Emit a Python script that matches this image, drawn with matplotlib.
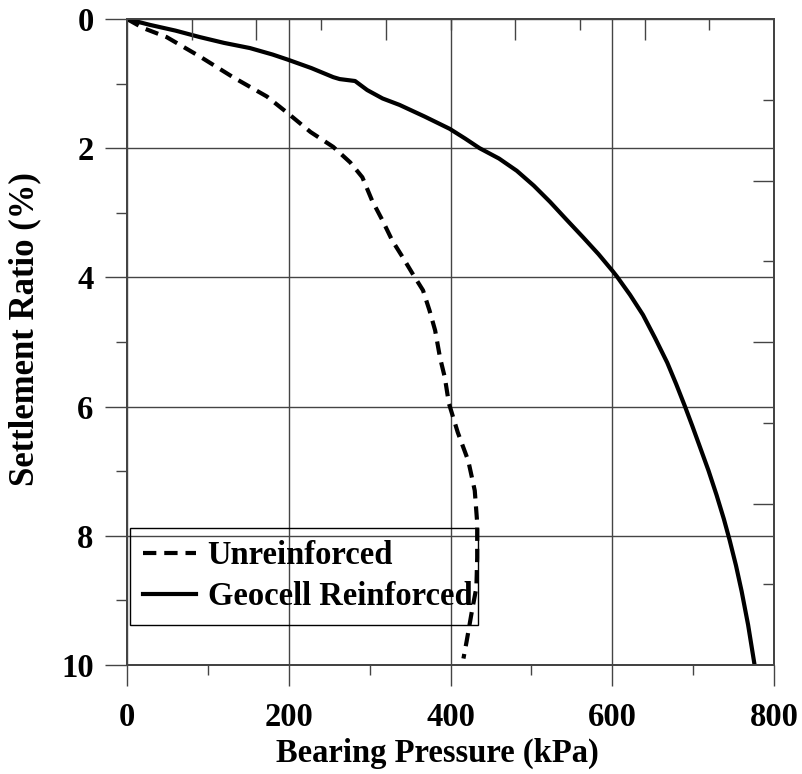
import matplotlib
matplotlib.use("Agg")
import matplotlib.pyplot as plt
from matplotlib.ticker import MultipleLocator, FixedLocator

# Data (bearing pressure kPa, settlement ratio %)
unreinf_p = [0, 20, 49, 90, 131, 173, 199, 227, 255, 276, 291, 303, 316, 328, 341,
             353, 366, 374, 381, 387, 393, 398, 409, 422, 430, 433, 433, 432, 426, 420, 416]
unreinf_s = [0, 0.14, 0.28, 0.58, 0.90, 1.20, 1.46, 1.75, 1.98, 2.22, 2.45, 2.81, 3.12, 3.43, 3.69,
             3.94, 4.20, 4.51, 4.82, 5.24, 5.55, 5.95, 6.40, 6.84, 7.30, 7.80, 8.34, 8.80, 9.20, 9.63, 9.90]

geo_p = [0, 28, 60, 90, 120, 152, 180, 199, 228, 255, 263, 282, 297, 316, 337, 368,
         399, 418, 436, 460, 482, 503, 523, 543, 564, 583, 601, 606, 622, 638, 653, 668,
         679, 690, 699, 708, 719, 729, 738, 745, 753, 760, 768, 776]
geo_s = [0, 0.09, 0.18, 0.28, 0.37, 0.45, 0.55, 0.63, 0.76, 0.90, 0.93, 0.96, 1.10, 1.23, 1.33, 1.51,
         1.70, 1.85, 2.00, 2.16, 2.35, 2.58, 2.83, 3.10, 3.38, 3.64, 3.91, 3.99, 4.27, 4.58, 4.94, 5.32,
         5.65, 6.00, 6.30, 6.61, 6.99, 7.37, 7.74, 8.06, 8.46, 8.86, 9.38, 10.0]

x_ticks = [0, 200, 400, 600, 800]
y_ticks = [0, 2, 4, 6, 8, 10]
top_long = [80, 160, 320, 480, 640]
top_short = [240, 400, 560, 720]
right_long = [2.5, 5.0, 7.5]
right_short = [1.25, 3.75, 6.25, 8.75]

plt.rcParams['font.family'] = ['Liberation Serif', 'DejaVu Serif']
plt.rcParams['font.weight'] = 'bold'
FS = 23.5

fig = plt.figure(figsize=(8.02, 7.74), dpi=100)
ax = fig.add_axes([127/802, 1-665/774, (774-127)/802, (665-19)/774])

gcol = '#444444'
ax.plot(unreinf_p, unreinf_s, color='black', lw=3.0, linestyle=(0, (3.2, 1.9)),
        label='Unreinforced', zorder=3)
ax.plot(geo_p, geo_s, color='black', lw=3.0, label='Geocell Reinforced', zorder=3)

ax.set_xlim(0, 800)
ax.set_ylim(10, 0)
ax.set_xticks(x_ticks)
ax.set_yticks(y_ticks)
ax.xaxis.set_minor_locator(MultipleLocator(100))
ax.yaxis.set_minor_locator(MultipleLocator(1))
ax.grid(True, which='major', color=gcol, lw=1.0)

for s in ax.spines.values():
    s.set_color(gcol)
    s.set_linewidth(1.2)

ax.tick_params(axis='x', which='major', direction='out', length=15, width=1.0,
               color=gcol, labelsize=FS, pad=12)
ax.tick_params(axis='x', which='minor', direction='out', length=7.5, width=1.0, color=gcol)
ax.tick_params(axis='y', which='major', direction='out', length=16, width=1.0,
               color=gcol, labelsize=FS, pad=8)
ax.tick_params(axis='y', which='minor', direction='out', length=8, width=1.0, color=gcol)
for lab in ax.get_xticklabels() + ax.get_yticklabels():
    lab.set_fontweight('bold')

# top ticks (inward)
axt = ax.twiny()
axt.set_xlim(0, 800)
axt.xaxis.set_major_locator(FixedLocator(top_long))
axt.xaxis.set_minor_locator(FixedLocator(top_short))
axt.tick_params(axis='x', which='major', direction='in', length=15, width=1.0, color=gcol,
                labeltop=False)
axt.tick_params(axis='x', which='minor', direction='in', length=8, width=1.0, color=gcol)
# right ticks (inward)
axr = ax.twinx()
axr.set_ylim(10, 0)
axr.yaxis.set_major_locator(FixedLocator(right_long))
axr.yaxis.set_minor_locator(FixedLocator(right_short))
axr.tick_params(axis='y', which='major', direction='in', length=15, width=1.0, color=gcol,
                labelright=False)
axr.tick_params(axis='y', which='minor', direction='in', length=8, width=1.0, color=gcol)
for a in (axt, axr):
    for s in a.spines.values():
        s.set_color(gcol)
        s.set_linewidth(1.2)

ax.set_xlabel('Bearing Pressure (kPa)', fontsize=FS, fontweight='bold')
ax.set_ylabel('Settlement Ratio (%)', fontsize=25, fontweight='bold')
ax.xaxis.set_label_coords(0.48, -0.112)
ax.yaxis.set_label_coords(-0.133, 0.52)

leg = axr.legend(*ax.get_legend_handles_labels(), loc='upper left',
                 bbox_to_anchor=(0.005, 0.212, 0.538, 0.0), mode='expand',
                 fontsize=FS, frameon=True, fancybox=False, framealpha=1,
                 facecolor='none', edgecolor='black', handlelength=1.65,
                 handletextpad=0.34, labelspacing=0.3, borderpad=0.38, borderaxespad=0)
leg.get_frame().set_linewidth(1.0)
for t in leg.get_texts():
    t.set_fontweight('bold')

fig.savefig('out.png', dpi=100)
